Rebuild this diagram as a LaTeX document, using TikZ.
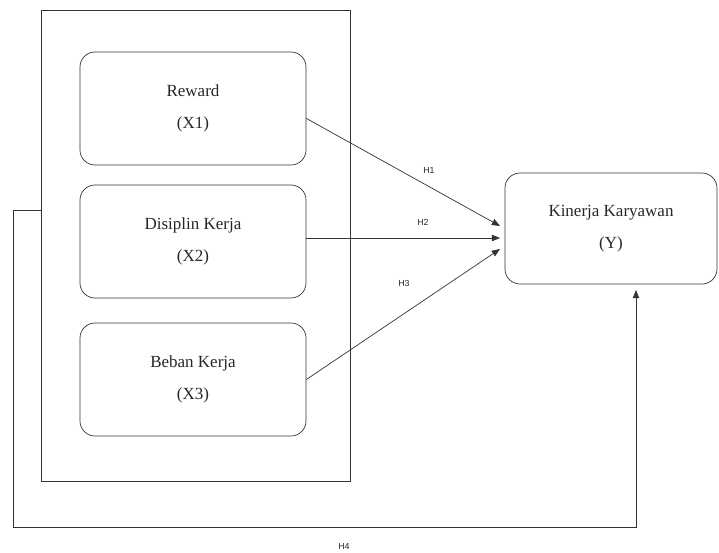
\documentclass[tikz,border=0pt]{standalone}
\usepackage{fontspec}
\setmainfont{Liberation Serif}
\newfontfamily\hfont{Liberation Sans}
\usetikzlibrary{arrows.meta}

\begin{document}
\begin{tikzpicture}[x=0.03cm, y=-0.03cm, line width=0.6pt,
  var/.style={draw=black!80, rounded corners=0.45cm, minimum width=6.78cm, minimum height=3.39cm, align=center, text=black!85, font=\fontsize{14.5}{27}\selectfont},
  hyp/.style={text=black!85, font=\hfont\fontsize{7.5}{9}\selectfont},
  link/.style={draw=black!80, -{Triangle[length=7pt,width=5.5pt]}}]
  \useasboundingbox (0,0) rectangle (719,552);

  % Kotak luar
  \node (frame) at (195.5,245.5) [draw=black!80, minimum width=9.27cm, minimum height=14.13cm] {};

  % Variabel bebas
  \node (X1) at (193,108.5) [var] {Reward\\(X1)};
  \node (X2) at (193,241.5) [var] {Disiplin Kerja\\(X2)};
  \node (X3) at (193,379.5) [var] {Beban Kerja\\(X3)};

  % Variabel terikat
  \node (Y) at (611,228.5) [var, minimum width=6.36cm, minimum height=3.33cm] {Kinerja Karyawan\\(Y)};

  % Ujung panah
  \coordinate (t1) at (500,226);
  \coordinate (t2) at (500,238);
  \coordinate (t3) at (500,249);
  \coordinate (s4) at (41,210);
  \coordinate (c1) at (13,210);
  \coordinate (c2) at (13,527);
  \coordinate (c3) at (636,527);
  \coordinate (t4) at (636,290);

  % Hubungan
  \draw[link] (X1.-5) -- (t1);
  \draw[link] (X2.east |- t2) -- (t2);
  \draw[link] (X3.east) -- (t3);
  \draw[link] (s4) -- (c1) -- (c2) -- (c3) -- (t4);

  % Label hipotesis
  \node (H1) at (429,170) [hyp] {H1};
  \node (H2) at (423,222) [hyp] {H2};
  \node (H3) at (404,283) [hyp] {H3};
  \node (H4) at (344,546) [hyp] {H4};
\end{tikzpicture}
\end{document}
